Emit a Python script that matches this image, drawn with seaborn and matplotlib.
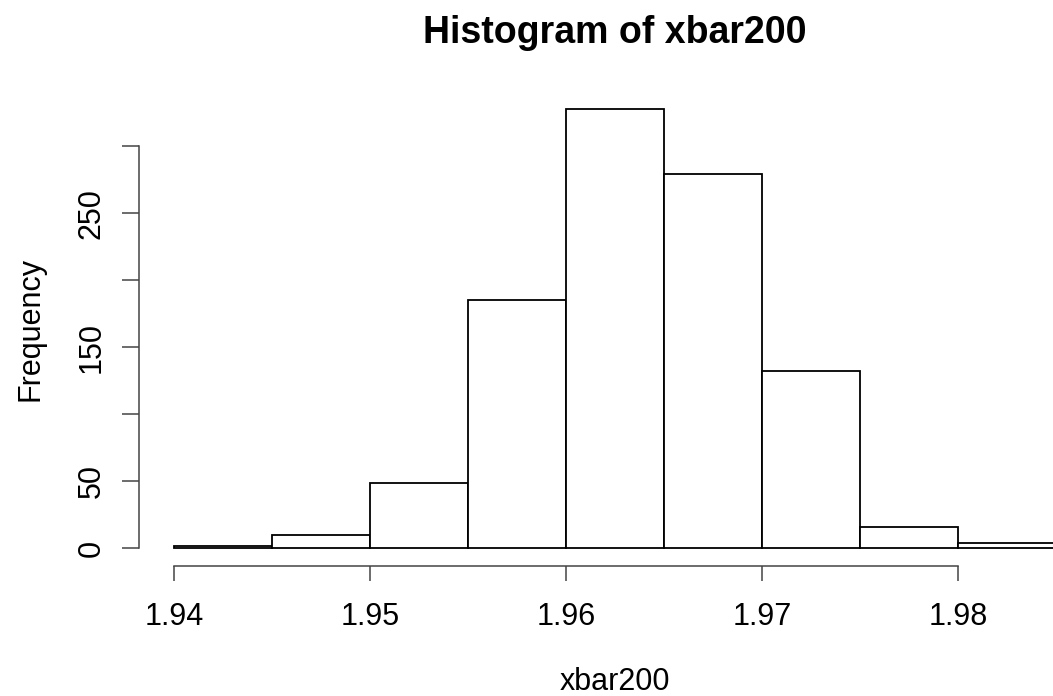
import numpy as np
import seaborn as sns
import matplotlib
matplotlib.use("Agg")
import matplotlib.pyplot as plt

# bin edges and counts
bin_edges = [1.940, 1.945, 1.950, 1.955, 1.960, 1.965, 1.970, 1.975, 1.980, 1.985]
counts = [2, 10, 49, 185, 328, 279, 132, 16, 4]
x_ticks = [1.94, 1.95, 1.96, 1.97, 1.98]
y_ticks = [0, 50, 100, 150, 200, 250, 300]
y_tick_labels = ["0", "50", "", "150", "", "250", ""]

mids = [(a + b) / 2 for a, b in zip(bin_edges[:-1], bin_edges[1:])]

sns.set_style("white")
plt.rcParams['font.family'] = ['Liberation Sans', 'DejaVu Sans']
plt.rcParams['text.color'] = 'black'
plt.rcParams['axes.labelcolor'] = 'black'

fig = plt.figure(figsize=(10.53, 6.96), dpi=100)
ax = fig.add_axes([0.1317, 0.1869, 0.9044, 0.682])

sns.histplot(x=mids, weights=counts, bins=bin_edges, color='white', alpha=1,
             edgecolor='black', linewidth=1.3, ax=ax)

# R-style expanded limits
ax.set_xlim(1.9382, 1.9868)
ax.set_ylim(-13.12, 341.12)

ax.set_xticks(x_ticks)
ax.set_xticklabels([f"{t:.2f}" for t in x_ticks])
ax.set_yticks(y_ticks)
ax.set_yticklabels(y_tick_labels, rotation=90)
for lab in ax.get_yticklabels():
    lab.set_va('center')

for s in ['top', 'right']:
    ax.spines[s].set_visible(False)
ax.spines['bottom'].set_bounds(1.94, 1.98)
ax.spines['left'].set_bounds(0, 300)
for s in ['bottom', 'left']:
    ax.spines[s].set_color('#444444')
    ax.spines[s].set_linewidth(1.1)

ax.tick_params(axis='x', length=11, width=1.1, color='#444444', pad=15,
               labelsize=22, labelcolor='black', direction='out', bottom=True)
ax.tick_params(axis='y', length=12, width=1.1, color='#444444', pad=11,
               labelsize=22, labelcolor='black', direction='out', left=True)

ax.set_xlabel('xbar200', fontsize=22)
ax.set_ylabel('Frequency', fontsize=22)
ax.xaxis.set_label_coords(0.5, -0.213)
ax.yaxis.set_label_coords(-0.098, 0.5)
ax.set_title('Histogram of xbar200', fontsize=27, fontweight='bold', pad=35)

fig.savefig('out.png', dpi=100)
